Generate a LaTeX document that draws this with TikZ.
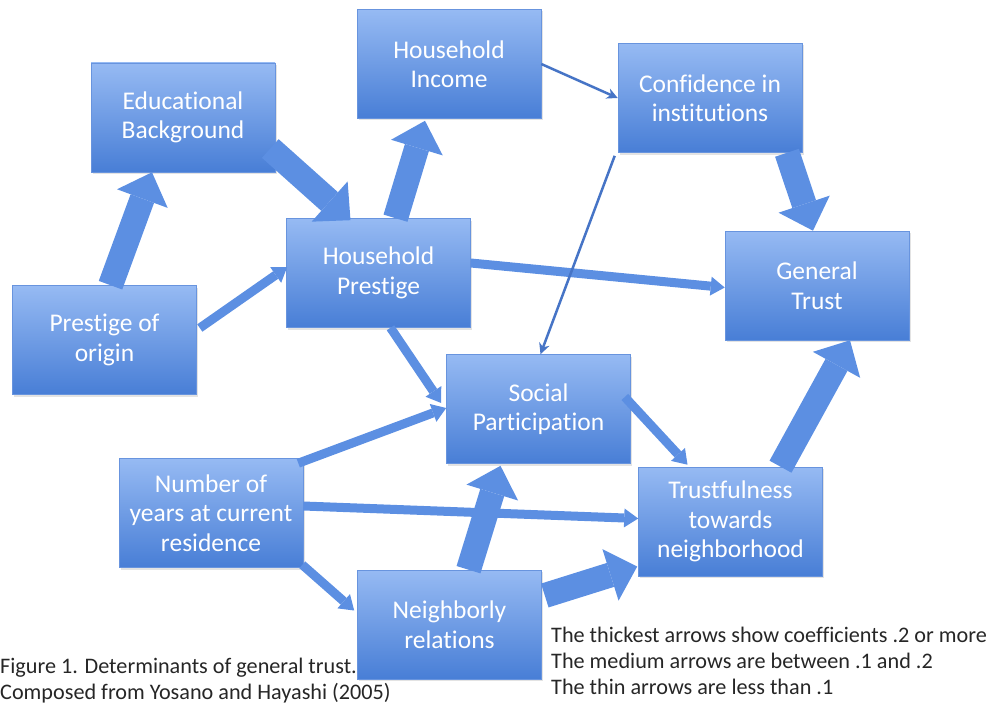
\documentclass[tikz,border=0pt]{standalone}
\usepackage{fontspec}
\setmainfont{Carlito}[Ligatures={NoCommon}]
\usetikzlibrary{arrows.meta,calc,positioning,shadows}
\definecolor{BoxTop}{RGB}{150,186,243}
\definecolor{BoxBot}{RGB}{72,126,214}
\definecolor{BoxEdge}{RGB}{104,148,222}
\definecolor{ArrowBlue}{RGB}{92,143,226}
\definecolor{ThinBlue}{RGB}{70,116,198}
\definecolor{NoteGray}{RGB}{38,38,38}

\begin{document}
\begin{tikzpicture}[x=1pt,y=-1pt,
    factor/.style={minimum width=184pt,minimum height=109pt,inner sep=2pt,
      top color=BoxTop,bottom color=BoxBot,draw=BoxEdge,line width=.6pt,
      text=white,align=center,font=\fontsize{25.5}{29.5}\selectfont,
      drop shadow={opacity=.22,shadow xshift=1.5pt,shadow yshift=-2pt}},
    thickarr/.style={ArrowBlue,line width=25pt,-{Triangle[length=28pt,width=54pt,line width=0pt]}},
    medarr/.style={ArrowBlue,line width=9pt,-{Triangle[length=14pt,width=19pt,line width=0pt]}},
    thinarr/.style={ThinBlue,line width=2.5pt,-{Stealth[length=11pt,width=11pt,line width=0pt]}},
    legendtext/.style={NoteGray,align=left,inner sep=0pt,font=\fontsize{22.2}{26}\selectfont}]
      \useasboundingbox (0,0) rectangle (995,706);
      % the ten factors
      \foreach \n/\x/\y/\t in {
          edu/183/117.5/{Educational\\Background},
          hinc/449/64/{Household\\Income},
          conf/710/98/{Confidence in\\institutions},
          gen/817/285.5/{General\\Trust},
          hp/378.5/273/{Household\\Prestige},
          po/104.5/340/{Prestige of\\origin},
          sp/538.5/409/{Social\\Participation},
          yrs/211/513/{Number of\\years at current\\residence},
          nr/449.5/624.5/{Neighborly\\relations},
          tn/730.5/521.5/{Trustfulness\\towards\\neighborhood}}
        \node[factor] (\n) at (\x,\y) {\t};
      % thick: .2 or more
      \draw[thickarr] ($(po.north)+(6,0)$) -- ($(edu.south)+(-31,0)$);
      \draw[thickarr] ($(edu.east)+(-5,31)$) -- ($(hp.north)+(-28,2)$);
      \draw[thickarr] ($(hp.north)+(17,0)$) -- ($(hinc.south)+(-24,2)$);
      \draw[thickarr] ($(conf.south)+(77,0)$) -- ($(gen.north)+(-4,0)$);
      \draw[thickarr] ($(tn.north)+(50,0)$) -- ($(gen.south)+(33,0)$);
      \draw[thickarr] ($(nr.north)+(19,0)$) -- ($(sp.south)+(-38,2)$);
      \draw[thickarr] ($(nr.east)+(3,-29)$) -- ($(tn.west)+(-1,45)$);
      % medium: .1 to .2
      \draw[medarr] ($(hp.east)+(0,-10)$) -- ($(gen.west)+(0,2)$);
      \draw[medarr] ($(yrs.east)+(0,-7)$) -- ($(tn.west)+(0,-3)$);
      \draw[medarr] ($(yrs.north east)+(-5,5)$) -- ($(sp.west)+(0,-1)$);
      \draw[medarr] ($(hp.south)+(12,0)$) -- ($(sp.west)+(-5,-6)$);
      \draw[medarr] ($(sp.east)+(-6,-12)$) -- ($(tn.north)+(-43,-2)$);
      \draw[medarr] ($(yrs.south east)+(-1,-3)$) -- ($(nr.west)+(-3,-14)$);
      \draw[medarr] ($(po.east)+(3,-12)$) -- ($(hp.west)+(1,-6)$);
      % thin: under .1
      \draw[thinarr] (hinc.east) -- (conf.west);
      \draw[thinarr] ($(conf.south west)+(-3,3)$) -- ($(sp.north)+(2,0)$);
      % captions
      \node[legendtext,anchor=west] (caption) at (0,681)
        {Figure 1. Determinants of general trust.\\Composed from Yosano and Hayashi (2005)};
      \node[legendtext,anchor=west] (key) at (551,661)
        {The thickest arrows show coefficients .2 or more\\The medium arrows are between .1 and .2\\The thin arrows are less than .1};
    \end{tikzpicture}
\end{document}
